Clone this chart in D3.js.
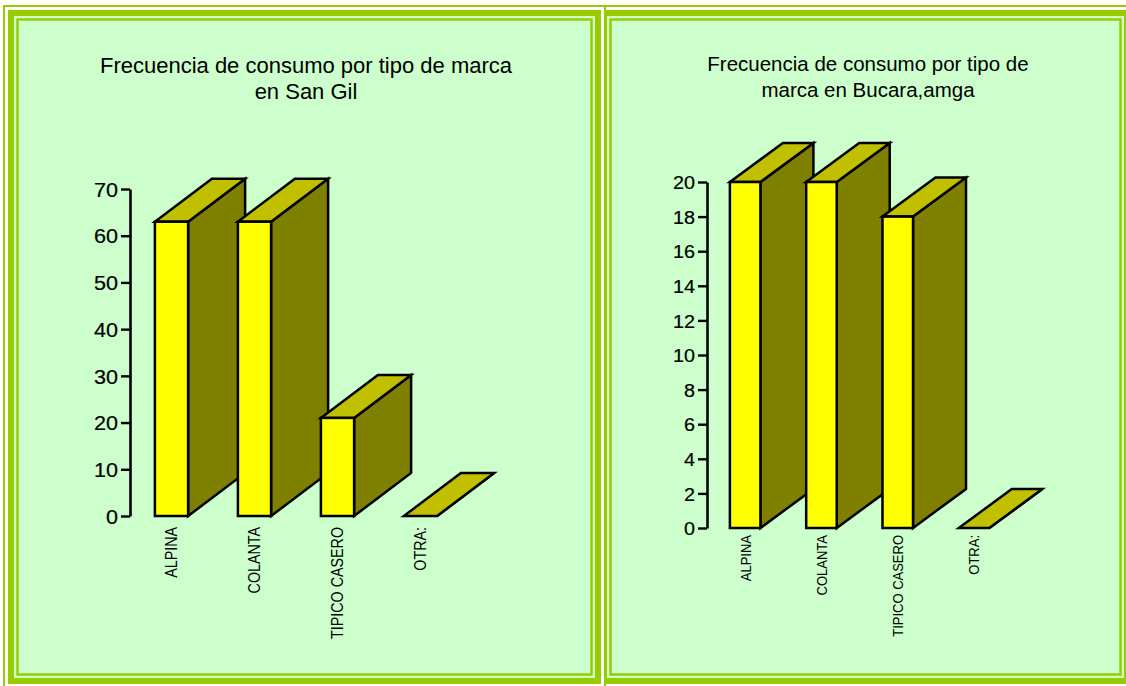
<!DOCTYPE html>
<html>
<head>
<meta charset="utf-8">
<script src="https://cdn.jsdelivr.net/npm/d3@7"></script>
<style>
  body { margin: 0; background: #ffffff; }
  svg { display: block; font-family: "Liberation Sans", Arial, sans-serif; }
</style>
</head>
<body>
<svg id="chart" width="1126" height="686"></svg>
<script>
// datos
var marcas = ["ALPINA", "COLANTA", "TIPICO CASERO", "OTRA:"];
var sanGil = [63, 63, 21, 0];
var bucaramanga = [20, 20, 18, 0];
var ticksSanGil = [0, 10, 20, 30, 40, 50, 60, 70];
var ticksBucaramanga = [0, 2, 4, 6, 8, 10, 12, 14, 16, 18, 20];
var tituloSanGil = ["Frecuencia de consumo por tipo de marca", "en San Gil"];
var tituloBucaramanga = ["Frecuencia de consumo por tipo de", "marca en Bucara,amga"];

var verde = "#99cc00", fondo = "#ccffcc";
var svg = d3.select("#chart");

// marco de cada panel (borde triple verde)
function panel(b) {
  var g = svg.append("g");
  g.append("rect")
    .attr("x", b.x0).attr("y", b.y0)
    .attr("width", b.x1 - b.x0).attr("height", b.y1 - b.y0)
    .attr("fill", "#ffffff");
  g.append("rect")
    .attr("x", b.x0 + 1).attr("y", b.y0 + 1)
    .attr("width", b.x1 - b.x0 - 2).attr("height", b.y1 - b.y0 - 2)
    .attr("fill", "none").attr("stroke", verde).attr("stroke-width", 2);
  g.append("rect")
    .attr("x", b.x0 + 8).attr("y", b.y0 + 8)
    .attr("width", b.x1 - b.x0 - 16).attr("height", b.y1 - b.y0 - 16)
    .attr("fill", fondo).attr("stroke", verde).attr("stroke-width", 6);
  g.append("rect")
    .attr("x", b.x0 + 14.5).attr("y", b.y0 + 14.5)
    .attr("width", b.x1 - b.x0 - 29).attr("height", b.y1 - b.y0 - 29)
    .attr("fill", "none").attr("stroke", verde).attr("stroke-width", 2.5);
}

function grafico(c) {
  var g = svg.append("g");

  var y = d3.scaleLinear().domain([0, d3.max(c.ticks)]).range([c.yBase, c.yTop]);
  var x = d3.scaleBand().domain(marcas)
      .range([c.axisX, c.axisX + c.step * marcas.length])
      .paddingInner(0.6).paddingOuter(0.3);

  // titulo
  g.selectAll("text.titulo")
    .data(c.titulo)
    .enter().append("text")
      .attr("class", "titulo")
      .attr("x", c.titleX)
      .attr("y", function(d, i) { return c.titleY + i * 26; })
      .attr("text-anchor", "middle")
      .attr("font-size", c.titleSize)
      .attr("fill", "#000")
      .text(function(d) { return d; });

  // eje y
  var eje = g.append("g")
      .attr("transform", "translate(" + c.axisX + ",0)")
      .call(d3.axisLeft(y).tickValues(c.ticks).tickSize(9).tickSizeOuter(0).tickPadding(3));
  eje.attr("font-size", null).attr("font-family", null);
  eje.select(".domain").attr("stroke", "#000").attr("stroke-width", 2.6);
  eje.selectAll(".tick line").attr("stroke", "#000").attr("stroke-width", 2.4);
  eje.selectAll(".tick text")
      .style("font-size", c.tickSize + "px")
      .attr("fill", "#000")
      .attr("stroke", "#000").attr("stroke-width", 0.2)
      .attr("x", -12 / c.sxTick)
      .attr("dy", "0.36em")
      .attr("transform", "scale(" + c.sxTick + ",1)");

  // barras 3D: lado, tapa y frente
  var w = x.bandwidth();
  var barras = g.selectAll("g.barra")
    .data(c.valores)
    .enter().append("g")
      .attr("class", "barra");

  function pts(a) { return a.map(function(p) { return p.join(","); }).join(" "); }

  barras.append("polygon")
      .attr("points", function(d, i) {
        var x1 = x(marcas[i]) + w, yt = y(d), yb = y(0);
        return pts([[x1, yt], [x1 + c.dx, yt - c.dy], [x1 + c.dx, yb - c.dy], [x1, yb]]);
      })
      .attr("fill", "#808000");
  barras.append("polygon")
      .attr("points", function(d, i) {
        var x0 = x(marcas[i]), x1 = x0 + w, yt = y(d);
        return pts([[x0, yt], [x0 + c.dx, yt - c.dy], [x1 + c.dx, yt - c.dy], [x1, yt]]);
      })
      .attr("fill", "#c0c000");
  barras.append("rect")
      .attr("x", function(d, i) { return x(marcas[i]); })
      .attr("y", function(d) { return y(d); })
      .attr("width", w)
      .attr("height", function(d) { return y(0) - y(d); })
      .attr("fill", "#ffff00");
  barras.selectAll("polygon, rect")
      .attr("stroke", "#000").attr("stroke-width", 2.5).attr("stroke-linejoin", "miter");

  // etiquetas de categoria, giradas
  g.selectAll("text.cat")
    .data(marcas)
    .enter().append("text")
      .attr("class", "cat")
      .attr("transform", function(d) {
        return "translate(" + (x(d) + w / 2) + "," + (c.yBase + c.labelGap) + ") scale(" + c.sxCat + ",1) rotate(-90)";
      })
      .attr("dy", "0.36em")
      .attr("text-anchor", "end")
      .style("font-size", c.catSize + "px")
      .attr("fill", "#000")
      .text(function(d) { return d; });
}

panel({x0: 596, y0: 5, x1: 1135, y1: 689});
panel({x0: 3, y0: 5, x1: 606, y1: 689});

grafico({
  valores: sanGil, ticks: ticksSanGil, titulo: tituloSanGil,
  titleX: 306, titleY: 73, titleSize: 22,
  axisX: 130, yBase: 516, yTop: 189, step: 83,
  dx: 57, dy: 43, sxTick: 1.08, tickSize: 20, sxCat: 1.15, catSize: 14.3, labelGap: 11
});

grafico({
  valores: bucaramanga, ticks: ticksBucaramanga, titulo: tituloBucaramanga,
  titleX: 868, titleY: 71, titleSize: 20.5,
  axisX: 707, yBase: 528, yTop: 182, step: 76.3,
  dx: 53, dy: 39, sxTick: 1.07, tickSize: 18.5, sxCat: 1.15, catSize: 13, labelGap: 7
});
</script>
</body>
</html>
